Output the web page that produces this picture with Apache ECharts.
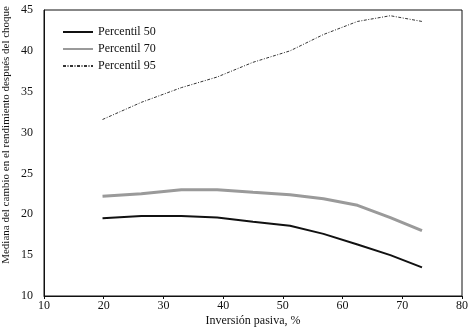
<!DOCTYPE html>
<html>
<head>
<meta charset="utf-8">
<script src="https://cdn.jsdelivr.net/npm/echarts@6/dist/echarts.min.js"></script>
<style>
  html, body { margin: 0; padding: 0; background: #fff; overflow: hidden; }
  #chart { width: 469px; height: 327px; }
</style>
</head>
<body>
<div id="chart"></div>
<script>
const inversion = [19.8, 26.3, 33, 39, 45, 51.2, 56.8, 62.5, 68, 73.3]
const p50 = [19.5, 19.8, 19.8, 19.6, 19.1, 18.6, 17.6, 16.3, 15.0, 13.5]
const p70 = [22.2, 22.5, 23.0, 23.0, 22.7, 22.4, 21.9, 21.1, 19.6, 18.0]
const p95 = [31.6, 33.7, 35.5, 36.8, 38.6, 40.0, 42.0, 43.6, 44.3, 43.6]
const seriesNames = ['Percentil 50', 'Percentil 70', 'Percentil 95']

const font = 'Liberation Serif'
const chart = echarts.init(document.getElementById('chart'))

const pairs = (ys) => inversion.map((x, i) => [x, ys[i]])

chart.setOption({
  animation: false,
  textStyle: { fontFamily: font },
  grid: {
    left: 44, right: 7, top: 10, bottom: 31,
    outerBoundsMode: 'none',
    show: true, borderColor: '#111', borderWidth: 1
  },
  legend: {
    orient: 'vertical',
    left: 57, top: 21,
    itemWidth: 30, itemHeight: 10, itemGap: 5,
    itemStyle: { opacity: 0 },
    textStyle: { fontFamily: font, fontSize: 12, color: '#111' },
    data: seriesNames
  },
  graphic: [{
    type: 'text',
    left: 1, top: 6,
    rotation: Math.PI / 2,
    style: {
      text: 'Mediana del cambio en el rendimiento después del choque',
      font: '11px "Liberation Serif"', fill: '#111'
    }
  }],
  xAxis: {
    type: 'value', min: 10, max: 80, interval: 10,
    name: 'Inversión pasiva, %', nameLocation: 'middle', nameGap: 19,
    nameMoveOverlap: false,
    nameTextStyle: { fontFamily: font, fontSize: 12, color: '#111' },
    axisLine: { lineStyle: { color: '#111', width: 1 } },
    axisTick: { show: true, length: 3, lineStyle: { color: '#111' } },
    axisLabel: { fontFamily: font, fontSize: 12, color: '#111', margin: 4 },
    splitLine: { show: false }
  },
  yAxis: {
    type: 'value', min: 10, max: 45, interval: 5,
    axisLine: { show: true, lineStyle: { color: '#111', width: 1 } },
    axisTick: { show: false },
    axisLabel: { fontFamily: font, fontSize: 12, color: '#111', margin: 11 },
    splitLine: { show: false }
  },
  series: [
    {
      name: seriesNames[0], type: 'line', data: pairs(p50),
      showSymbol: false, symbol: 'none',
      lineStyle: { color: '#111', width: 2 },
      itemStyle: { color: '#111' }
    },
    {
      name: seriesNames[1], type: 'line', data: pairs(p70),
      showSymbol: false, symbol: 'none',
      lineStyle: { color: '#9a9a9a', width: 3 },
      itemStyle: { color: '#9a9a9a' }
    },
    {
      name: seriesNames[2], type: 'line', data: pairs(p95),
      showSymbol: false, symbol: 'none',
      lineStyle: { color: '#333', width: 1, type: [3, 1.5, 1, 1.5] },
      itemStyle: { color: '#333' }
    }
  ]
})
</script>
</body>
</html>
